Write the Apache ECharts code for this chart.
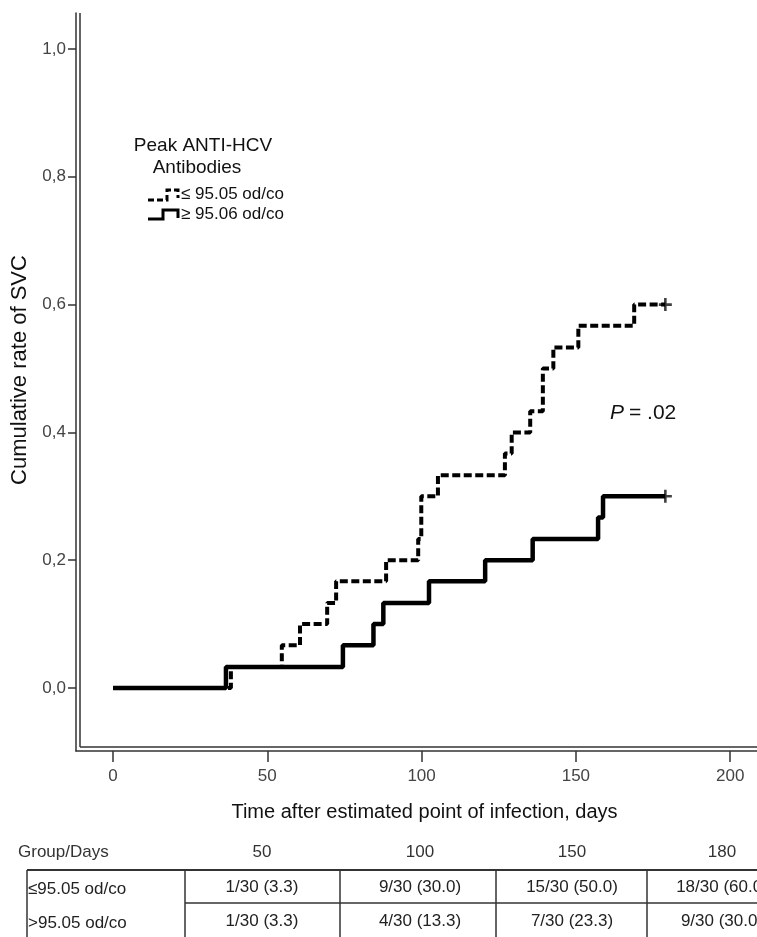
<!DOCTYPE html>
<html>
<head>
<meta charset="utf-8">
<script src="https://cdn.jsdelivr.net/npm/echarts@6/dist/echarts.min.js"></script>
<style>
html,body{margin:0;padding:0;background:#fff;}
#chart{width:757px;height:937px;}
</style>
</head>
<body>
<div id="chart"></div>
<script>
// ---- data ----
const dashedDays = [0, 38.2, 54.7, 60.6, 69.4, 72.3, 88.5, 98.9, 99.9, 105.3, 127, 129.2, 135.2, 139.3, 142.7, 150.8, 168.9, 179];
const dashedRate = [0, 0.033, 0.067, 0.1, 0.133, 0.167, 0.2, 0.233, 0.3, 0.333, 0.367, 0.4, 0.433, 0.5, 0.533, 0.567, 0.6, 0.6];
const solidDays = [0, 36.6, 74.5, 84.4, 87.6, 102.4, 120.6, 136, 157.2, 158.8, 179];
const solidRate = [0, 0.033, 0.067, 0.1, 0.133, 0.167, 0.2, 0.233, 0.267, 0.3, 0.3];
const censorDays = [179, 179];
const censorRate = [0.6, 0.3];
const xTicks = [0, 50, 100, 150, 200];
const yTicks = [0, 0.2, 0.4, 0.6, 0.8, 1.0];
const seriesNames = ['≤ 95.05 od/co', '≥ 95.06 od/co'];
const legendTitle = ['Peak ANTI-HCV', 'Antibodies'];
const pValueText = '= .02';
const tableHeaders = ['Group/Days', '50', '100', '150', '180'];
const rowLabels = ['≤95.05 od/co', '>95.05 od/co'];
const row1 = ['1/30 (3.3)', '9/30 (30.0)', '15/30 (50.0)', '18/30 (60.0)'];
const row2 = ['1/30 (3.3)', '4/30 (13.3)', '7/30 (23.3)', '9/30 (30.0)'];

const FONT = "'Liberation Sans', Arial, sans-serif";
const chart = echarts.init(document.getElementById('chart'), null, {renderer: 'canvas'});

const zip = (a, b) => a.map((v, i) => [v, b[i]]);

// table graphics
const colCenters = [262, 420, 572, 722];
const colLines = [27, 185, 340, 496, 647];
const g = [];
g.push({type: 'text', x: 18, y: 852, style: {text: tableHeaders[0], font: '17px ' + FONT, fill: '#333', verticalAlign: 'middle'}});
tableHeaders.slice(1).forEach((t, i) => {
  g.push({type: 'text', x: colCenters[i], y: 852, style: {text: t, font: '17px ' + FONT, fill: '#333', align: 'center', verticalAlign: 'middle'}});
});
g.push({type: 'line', shape: {x1: 27, y1: 870, x2: 757, y2: 870}, style: {stroke: '#333', lineWidth: 2}});
g.push({type: 'line', shape: {x1: 185, y1: 903, x2: 757, y2: 903}, style: {stroke: '#333', lineWidth: 1.5}});
colLines.forEach(x => {
  g.push({type: 'line', shape: {x1: x, y1: 870, x2: x, y2: 937}, style: {stroke: '#333', lineWidth: 1.5}});
});
g.push({type: 'text', x: 28, y: 889, style: {text: rowLabels[0], font: '17px ' + FONT, fill: '#222', verticalAlign: 'middle'}});
g.push({type: 'text', x: 28, y: 923, style: {text: rowLabels[1], font: '17px ' + FONT, fill: '#222', verticalAlign: 'middle'}});
row1.forEach((t, i) => g.push({type: 'text', x: colCenters[i], y: 887, style: {text: t, font: '17px ' + FONT, fill: '#222', align: 'center', verticalAlign: 'middle'}}));
row2.forEach((t, i) => g.push({type: 'text', x: colCenters[i], y: 921, style: {text: t, font: '17px ' + FONT, fill: '#222', align: 'center', verticalAlign: 'middle'}}));

// inner frame lines (double axis)
g.push({type: 'line', shape: {x1: 80, y1: 13, x2: 80, y2: 747}, style: {stroke: '#333', lineWidth: 1.5}});
g.push({type: 'line', shape: {x1: 80, y1: 747, x2: 757, y2: 747}, style: {stroke: '#333', lineWidth: 1.5}});

// legend
g.push({type: 'text', x: 203, y: 146, style: {text: legendTitle[0], font: '19px ' + FONT, fill: '#111', align: 'center', verticalAlign: 'middle'}});
g.push({type: 'text', x: 197, y: 168, style: {text: legendTitle[1], font: '19px ' + FONT, fill: '#111', align: 'center', verticalAlign: 'middle'}});
g.push({type: 'polyline', shape: {points: [[148, 200], [167, 200], [167, 190], [178, 190], [178, 198]]}, style: {stroke: '#000', lineWidth: 3, fill: null, lineDash: [6, 3]}});
g.push({type: 'polyline', shape: {points: [[148, 219], [163, 219], [163, 210], [178, 210], [178, 218]]}, style: {stroke: '#000', lineWidth: 3, fill: null}});
g.push({type: 'text', x: 181, y: 194, style: {text: seriesNames[0], font: '17px ' + FONT, fill: '#111', verticalAlign: 'middle'}});
g.push({type: 'text', x: 181, y: 214, style: {text: seriesNames[1], font: '17px ' + FONT, fill: '#111', verticalAlign: 'middle'}});

// p value
g.push({type: 'text', x: 610, y: 413, style: {text: 'P', font: 'italic 21px ' + FONT, fill: '#111', verticalAlign: 'middle'}});
g.push({type: 'text', x: 629, y: 413, style: {text: pValueText, font: '21px ' + FONT, fill: '#111', verticalAlign: 'middle'}});

const plusPath = 'path://M4,0H6V4H10V6H6V10H4V6H0V4H4Z';

chart.setOption({
  animation: false,
  backgroundColor: '#fff',
  grid: {left: 76, top: 13, right: 0, bottom: 186, containLabel: false, outerBoundsMode: 'none'},
  xAxis: {
    type: 'value', min: -12, max: 208.7,
    name: 'Time after estimated point of infection, days',
    nameLocation: 'middle', nameGap: 51,
    nameTextStyle: {fontFamily: FONT, fontSize: 20, color: '#111', padding: [0, 0, 0, 16]},
    axisLine: {show: true, onZero: false, lineStyle: {color: '#333', width: 1.5}},
    axisTick: {show: true, length: 11, customValues: xTicks, lineStyle: {color: '#333', width: 1.5}},
    axisLabel: {customValues: xTicks, margin: 17, fontFamily: FONT, fontSize: 17, color: '#444'},
    splitLine: {show: false}
  },
  yAxis: {
    type: 'value', min: -0.0986, max: 1.0563,
    name: 'Cumulative rate of SVC',
    nameLocation: 'middle', nameGap: 45, nameRotate: 90,
    nameTextStyle: {fontFamily: FONT, fontSize: 22, color: '#111', padding: [0, 0, 0, 24]},
    axisLine: {show: true, onZero: false, lineStyle: {color: '#333', width: 1.5}},
    axisTick: {show: true, length: 8, customValues: yTicks, lineStyle: {color: '#333', width: 1.5}},
    axisLabel: {customValues: yTicks, margin: 10, fontFamily: FONT, fontSize: 17, color: '#444',
      formatter: v => v.toFixed(1).replace('.', ',')},
    splitLine: {show: false}
  },
  graphic: g,
  series: [
    {
      name: seriesNames[0], type: 'line', step: 'end', symbol: 'none',
      data: zip(dashedDays, dashedRate),
      lineStyle: {color: '#000', width: 4, type: [8, 3.5], cap: 'butt'}
    },
    {
      name: seriesNames[1], type: 'line', step: 'end', symbol: 'none',
      data: zip(solidDays, solidRate),
      lineStyle: {color: '#000', width: 4.5}
    },
    {
      type: 'scatter', symbol: plusPath, symbolSize: [13, 13],
      data: zip(censorDays, censorRate),
      itemStyle: {color: '#111'}
    }
  ]
});
</script>
</body>
</html>
